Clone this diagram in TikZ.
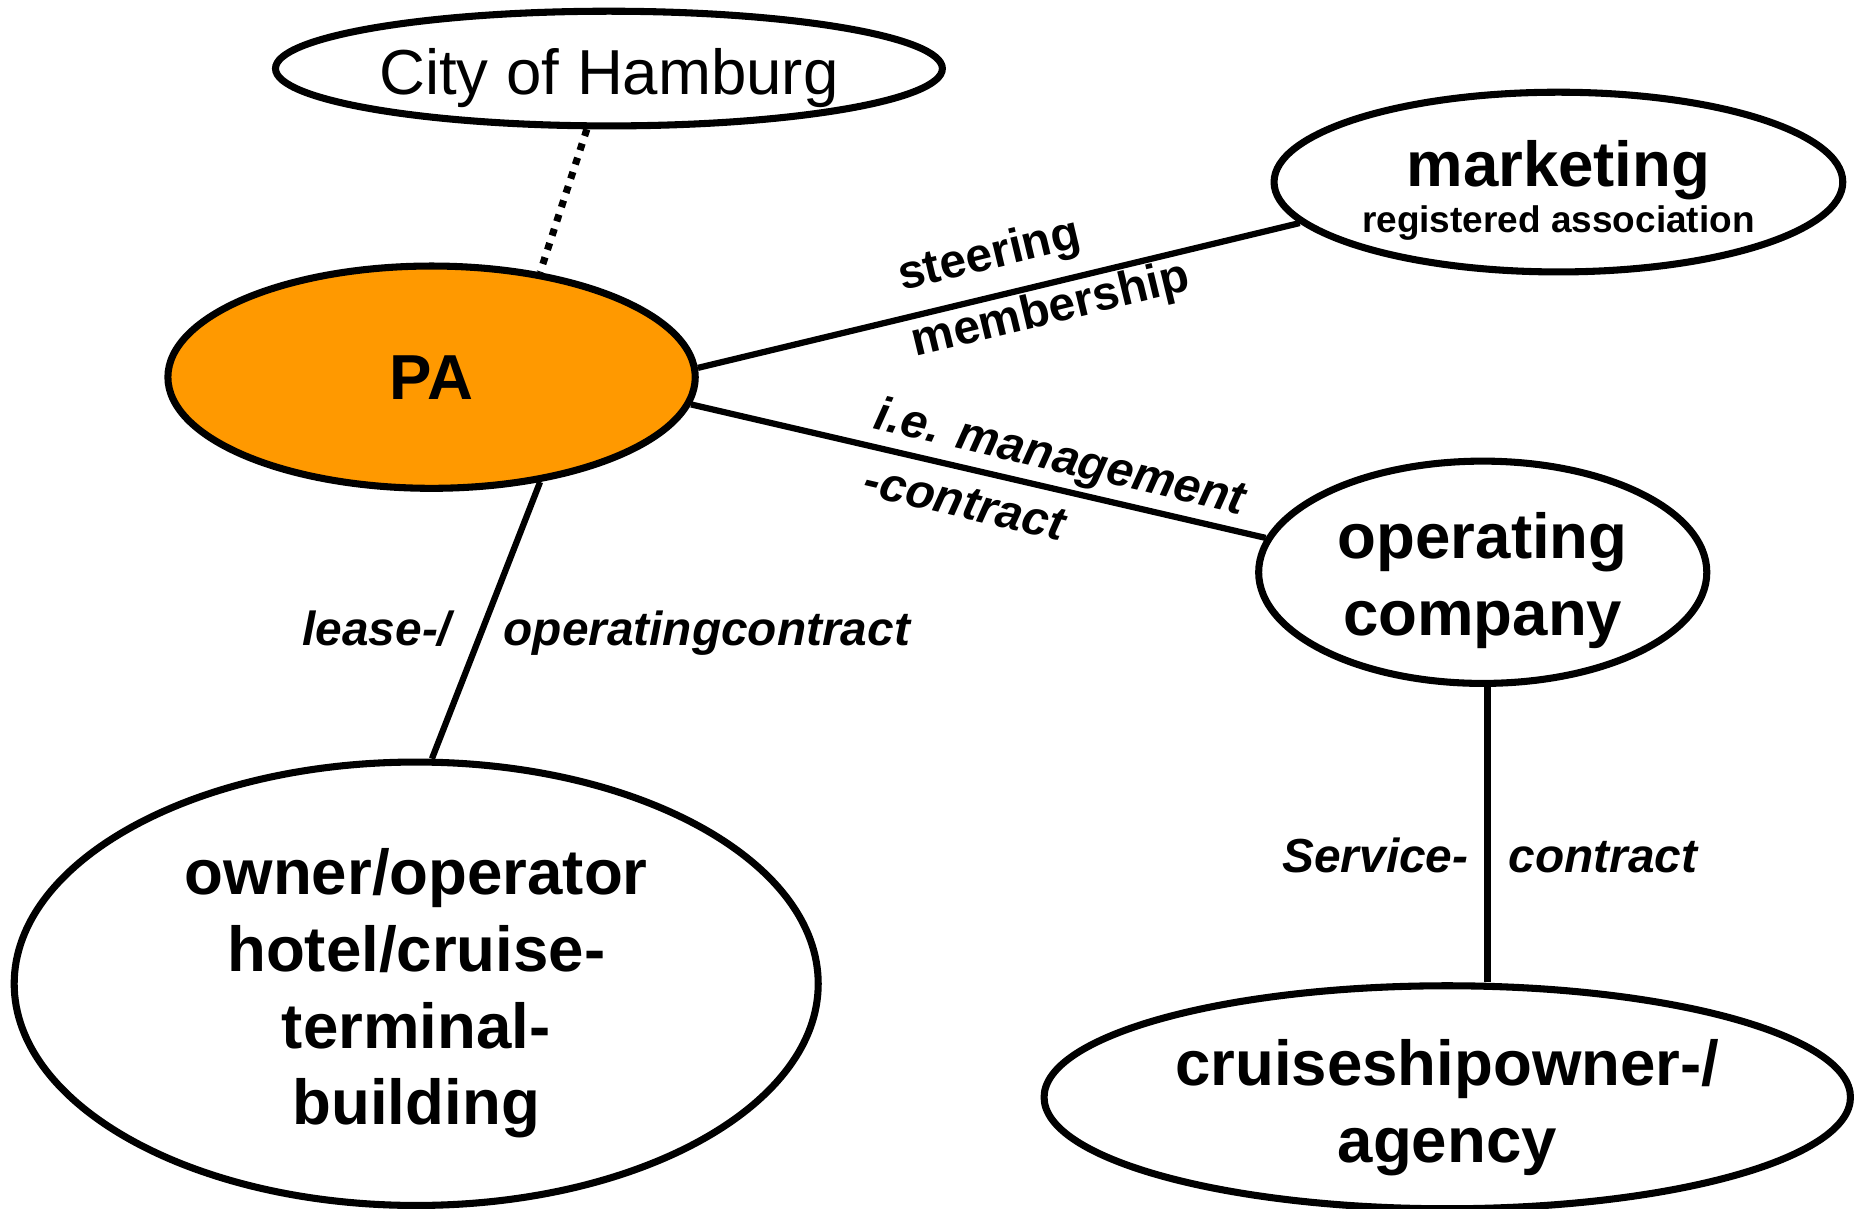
\documentclass[tikz,border=0pt]{standalone}
\usepackage{fontspec}
\setmainfont{Liberation Sans}
\usetikzlibrary{shapes.geometric}
\definecolor{paorange}{HTML}{FF9900}
\newcommand{\lift}[1]{\rule{0pt}{#1}}

\begin{document}
\begin{tikzpicture}[
    party/.style={ellipse, draw, line width=1.7pt, inner sep=0pt, align=center,
        font=\fontsize{15.3}{18.5}\selectfont\bfseries},
    link/.style={line width=1.5pt},
    lbl/.style={font=\fontsize{11.5}{13}\selectfont\bfseries, inner sep=1pt},
    ilbl/.style={lbl, font=\fontsize{11.5}{13}\selectfont\bfseries\itshape}
]
    \useasboundingbox (0,0) rectangle (15.68,10.22);
    % Parties
    \node[party, font=\fontsize{15.3}{18}\selectfont, minimum width=5.64cm, minimum height=0.97cm] (city) at (5.15,9.64) {\lift{15.8pt}City of Hamburg};
    \node[party, minimum width=4.81cm, minimum height=1.52cm] (mkt) at (13.18,8.68)
        {\lift{15.2pt}marketing\\[-7.5pt]{\fontsize{8.9}{10}\selectfont registered association}};
    \node[party, fill=paorange, minimum width=4.46cm, minimum height=1.88cm] (pa) at (3.65,7.03) {PA};
    \node[party, minimum width=3.79cm, minimum height=1.88cm] (op) at (12.54,5.38) {\lift{15.2pt}operating\\company};
    \node[party, minimum width=6.80cm, minimum height=3.75cm] (own) at (3.52,1.90)
        {\lift{15.7pt}owner/operator\\hotel/cruise-\\terminal-\\building};
    \node[party, minimum width=6.82cm, minimum height=1.86cm] (ship) at (12.24,0.94)
        {\lift{16.2pt}cruiseshipowner-/\\agency};
    % Relations
    \draw[link, line width=1.7pt, dash pattern=on 1.7pt off 1.9pt] (city.250) -- (pa.44);
    \draw[link] (pa.2.8) -- (mkt.189)
        node[lbl, pos=.5, sloped, anchor=south, inner sep=3.4pt] {steering}
        node[lbl, pos=.576, sloped, anchor=north, inner sep=.5pt] {membership};
    \draw[link] (pa.-6.2) -- (op.171)
        node[ilbl, pos=.63, sloped, anchor=south, inner sep=1pt] {i.e. management}
        node[ilbl, pos=.49, sloped, anchor=north, inner sep=3.6pt] {-contract};
    \draw[link] (pa.-44) -- (own.86)
        node[ilbl, pos=.59, anchor=base east, xshift=-0.15cm] {lease-/}
        node[ilbl, pos=.59, anchor=base west, xshift=0.17cm] {operatingcontract};
    \draw[link] ([xshift=0.04cm]op.south) -- ([xshift=0.04cm]op.south |- ship.north)
        node[ilbl, pos=.627, anchor=base east, xshift=-0.10cm] {Service-}
        node[ilbl, pos=.627, anchor=base west, xshift=0.12cm] {contract};
\end{tikzpicture}
\end{document}
